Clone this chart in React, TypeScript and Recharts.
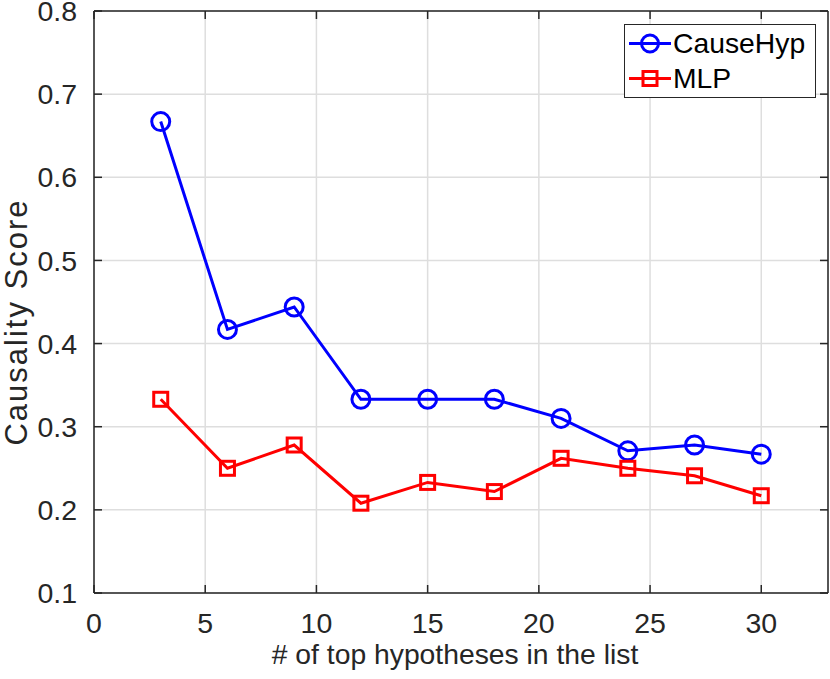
import { CartesianGrid, Legend, Line, LineChart, XAxis, YAxis } from "recharts";

const topN = [3, 6, 9, 12, 15, 18, 21, 24, 27, 30];
const causeHyp = [0.667, 0.417, 0.444, 0.333, 0.333, 0.333, 0.31, 0.271, 0.278, 0.267];
const mlp = [0.333, 0.25, 0.278, 0.208, 0.233, 0.222, 0.262, 0.25, 0.241, 0.217];

const xTicks = [0, 5, 10, 15, 20, 25, 30];
const yTicks = [0.1, 0.2, 0.3, 0.4, 0.5, 0.6, 0.7, 0.8];

const rows = topN.map((n, i) => ({ n, causeHyp: causeHyp[i], mlp: mlp[i] }));

const AXIS = "#262626";
const BLUE = "#0000ff";
const RED = "#ff0000";
const FONT = '"Liberation Sans", Arial, Helvetica, sans-serif';

const axisLine = { stroke: AXIS, strokeWidth: 1.5 };
const tickStyle = { fill: AXIS, fontSize: 28.5, fontFamily: FONT };

function SquareDot(props: any) {
  const { cx, cy, index } = props;
  if (cx == null || cy == null) return <g key={index} />;
  return (
    <rect
      key={index}
      x={cx - 7}
      y={cy - 7}
      width={14}
      height={14}
      fill="none"
      stroke={RED}
      strokeWidth={3}
    />
  );
}

function LegendBox() {
  const items = [
    { name: "CauseHyp", color: BLUE, marker: "circle" },
    { name: "MLP", color: RED, marker: "square" },
  ];
  return (
    <div
      style={{
        border: `1.5px solid ${AXIS}`,
        background: "#fff",
        padding: "1px 0",
        boxSizing: "border-box",
        width: 192,
        fontFamily: FONT,
      }}
    >
      {items.map((it) => (
        <div
          key={it.name}
          style={{ display: "flex", alignItems: "center", height: 35 }}
        >
          <svg width={48} height={35} style={{ display: "block" }}>
            <line x1={4} y1={17.5} x2={46} y2={17.5} stroke={it.color} strokeWidth={3} />
            {it.marker === "circle" ? (
              <circle cx={25} cy={17.5} r={8.5} fill="none" stroke={it.color} strokeWidth={3} />
            ) : (
              <rect x={18} y={10.5} width={14} height={14} fill="none" stroke={it.color} strokeWidth={3} />
            )}
          </svg>
          <span style={{ fontSize: 28.3, color: "#000", lineHeight: "35px" }}>{it.name}</span>
        </div>
      ))}
    </div>
  );
}

export default function App() {
  return (
    <div
      style={{
        position: "absolute",
        left: 0,
        top: 0,
        width: 830,
        height: 679,
        background: "#fff",
        fontFamily: FONT,
      }}
    >
      <LineChart
        width={830}
        height={679}
        data={rows}
        margin={{ top: 0, right: 0, bottom: 0, left: 0 }}
      >
        <CartesianGrid stroke="#dedede" strokeWidth={1.5} />
        <XAxis
          dataKey="n"
          type="number"
          domain={[0, 33]}
          ticks={xTicks}
          interval={0}
          height={86}
          axisLine={axisLine}
          tickLine={axisLine}
          tickSize={-8}
          tickMargin={28}
          tick={tickStyle}
          label={{
            value: "# of top hypotheses in the list",
            position: "center",
            dx: -6,
            dy: 18,
            fill: AXIS,
            fontSize: 28.3,
            fontFamily: FONT,
          }}
        />
        <XAxis
          xAxisId="top"
          orientation="top"
          dataKey="n"
          type="number"
          domain={[0, 33]}
          ticks={xTicks}
          interval={0}
          height={11}
          axisLine={axisLine}
          tickLine={axisLine}
          tickSize={-8}
          tick={{ fontSize: 1, fill: "none" }}
        />
        <YAxis
          type="number"
          domain={[0.1, 0.8]}
          ticks={yTicks}
          interval={0}
          width={94}
          axisLine={axisLine}
          tickLine={axisLine}
          tickSize={-8}
          tickMargin={25}
          tick={tickStyle}
          tickFormatter={(v: number) => v.toFixed(1)}
          label={{
            value: "Causality Score",
            angle: -90,
            position: "center",
            dx: -31,
            dy: 20,
            fill: AXIS,
            fontSize: 31,
            letterSpacing: 2,
            fontFamily: FONT,
          }}
        />
        <YAxis
          yAxisId="right"
          orientation="right"
          dataKey="causeHyp"
          type="number"
          domain={[0.1, 0.8]}
          ticks={yTicks}
          interval={0}
          width={2}
          axisLine={axisLine}
          tickLine={axisLine}
          tickSize={-8}
          tick={{ fontSize: 1, fill: "none" }}
        />
        <Line
          dataKey="causeHyp"
          name="CauseHyp"
          type="linear"
          stroke={BLUE}
          strokeWidth={3}
          dot={{ r: 9, stroke: BLUE, strokeWidth: 3, fill: "none" }}
          activeDot={false}
          isAnimationActive={false}
        />
        <Line
          dataKey="mlp"
          name="MLP"
          type="linear"
          stroke={RED}
          strokeWidth={3}
          dot={SquareDot}
          activeDot={false}
          isAnimationActive={false}
        />
        <Legend
          layout="vertical"
          align="center"
          verticalAlign="middle"
          wrapperStyle={{ top: 24, left: 624, width: 192 }}
          content={() => <LegendBox />}
        />
      </LineChart>
    </div>
  );
}
